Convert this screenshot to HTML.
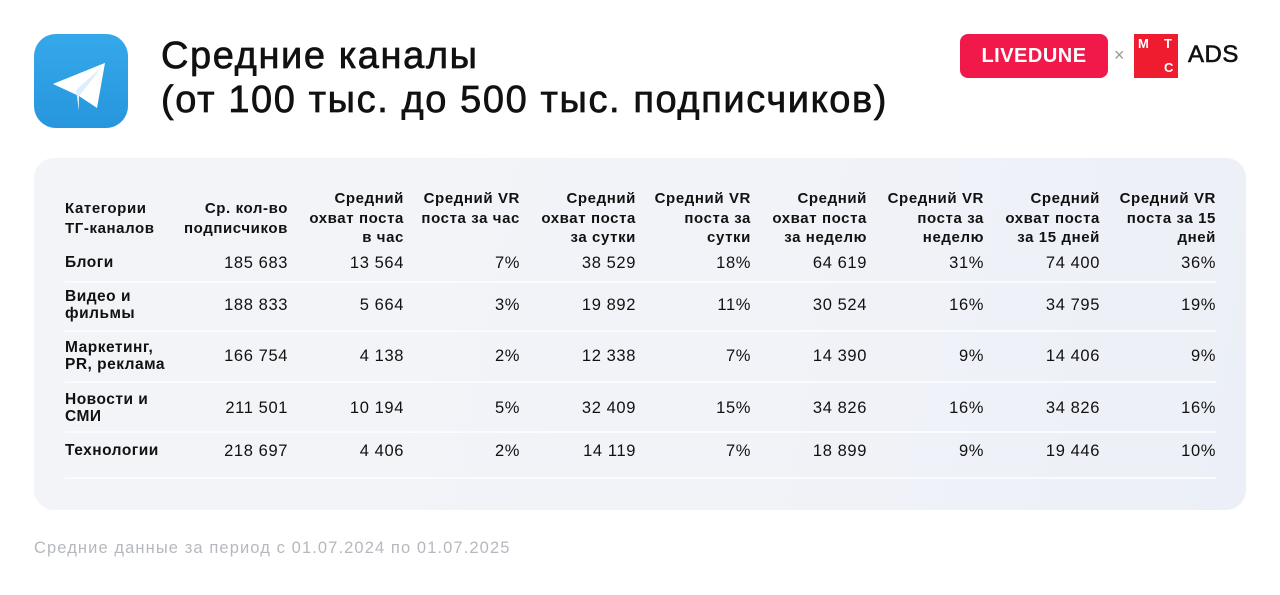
<!DOCTYPE html>
<html><head><meta charset="utf-8"><style>
body{margin:0;width:1280px;height:595px;background:#fff;font-family:"Liberation Sans",sans-serif;position:relative;overflow:hidden;color:#111}
.a{position:absolute}
.title{left:161px;top:34px;font-size:38px;line-height:44px;color:#111;letter-spacing:1.6px;-webkit-text-stroke:0.7px #111}
.card{left:34px;top:158px;width:1212px;height:352px;border-radius:20px;background:linear-gradient(100deg,#f3f4f8 0%,#f1f3f8 60%,#eceff7 100%)}
.h{font-size:15px;font-weight:bold;line-height:19.5px;text-align:right;letter-spacing:0.6px}
.c{font-size:16.5px;text-align:right;line-height:17px;letter-spacing:0.6px}
.n{font-size:15.5px;font-weight:bold;line-height:16.5px;letter-spacing:0.5px}
.sep{left:65px;width:1151px;height:2px;background:#fafbfd}
</style></head><body>
<div class="a" style="left:34px;top:34px;width:94px;height:94px;border-radius:22px;background:linear-gradient(180deg,#35a8ea,#2796dd)">
<svg width="94" height="94" viewBox="0 0 94 94"><path d="M19 50 L71 29 L63 74 L45 62 Z" fill="#fff"/><path d="M45 62 L68 33 L42 56 L45 77 Z" fill="#dbeefa"/><path d="M19 50 L71 29 L42 56 Z" fill="#fff"/></svg>
</div>
<div class="a title">Средние каналы<br>(от 100 тыс. до 500 тыс. подписчиков)</div>
<div class="a" style="left:960px;top:34px;width:148px;height:44px;border-radius:8px;background:#f0194a;color:#fff;font-weight:bold;font-size:20px;line-height:44px;text-align:center;letter-spacing:0.5px">LIVEDUNE</div>
<div class="a" style="left:1114px;top:45px;color:#999;font-size:18px">×</div>
<div class="a" style="left:1134px;top:34px;width:44px;height:44px;background:#ee1c2e;color:#fff;font-weight:bold;font-size:13px">
<span class="a" style="left:4px;top:2px">М</span><span class="a" style="left:30px;top:2px">Т</span><span class="a" style="left:30px;top:26px">С</span></div>
<div class="a" style="left:1188px;top:41px;font-size:24px;color:#111;letter-spacing:0.5px;-webkit-text-stroke:0.6px #111">ADS</div>
<div class="a card"></div>
<div class="a sep" style="top:281px"></div>
<div class="a sep" style="top:330px"></div>
<div class="a sep" style="top:381px"></div>
<div class="a sep" style="top:431px"></div>
<div class="a sep" style="top:477px"></div>
<div class="a h" style="left:65px;top:199px;text-align:left">Категории<br>ТГ-каналов</div>
<div class="a h" style="right:992px;top:199px">Ср. кол-во<br>подписчиков</div>
<div class="a h" style="right:876px;top:189px">Средний<br>охват поста<br>в час</div>
<div class="a h" style="right:760px;top:189px">Средний VR<br>поста за час</div>
<div class="a h" style="right:644px;top:189px">Средний<br>охват поста<br>за сутки</div>
<div class="a h" style="right:529px;top:189px">Средний VR<br>поста за<br>сутки</div>
<div class="a h" style="right:413px;top:189px">Средний<br>охват поста<br>за неделю</div>
<div class="a h" style="right:296px;top:189px">Средний VR<br>поста за<br>неделю</div>
<div class="a h" style="right:180px;top:189px">Средний<br>охват поста<br>за 15 дней</div>
<div class="a h" style="right:64px;top:189px">Средний VR<br>поста за 15<br>дней</div>
<div class="a n" style="left:65px;top:255px">Блоги</div>
<div class="a n" style="left:65px;top:289px">Видео и<br>фильмы</div>
<div class="a n" style="left:65px;top:340px">Маркетинг,<br>PR, реклама</div>
<div class="a n" style="left:65px;top:392px">Новости и<br>СМИ</div>
<div class="a n" style="left:65px;top:443px">Технологии</div>

<div class="a c" style="right:992px;top:255px">185 683</div><div class="a c" style="right:876px;top:255px">13 564</div><div class="a c" style="right:760px;top:255px">7%</div><div class="a c" style="right:644px;top:255px">38 529</div><div class="a c" style="right:529px;top:255px">18%</div><div class="a c" style="right:413px;top:255px">64 619</div><div class="a c" style="right:296px;top:255px">31%</div><div class="a c" style="right:180px;top:255px">74 400</div><div class="a c" style="right:64px;top:255px">36%</div>

<div class="a c" style="right:992px;top:297px">188 833</div><div class="a c" style="right:876px;top:297px">5 664</div><div class="a c" style="right:760px;top:297px">3%</div><div class="a c" style="right:644px;top:297px">19 892</div><div class="a c" style="right:529px;top:297px">11%</div><div class="a c" style="right:413px;top:297px">30 524</div><div class="a c" style="right:296px;top:297px">16%</div><div class="a c" style="right:180px;top:297px">34 795</div><div class="a c" style="right:64px;top:297px">19%</div>

<div class="a c" style="right:992px;top:348px">166 754</div><div class="a c" style="right:876px;top:348px">4 138</div><div class="a c" style="right:760px;top:348px">2%</div><div class="a c" style="right:644px;top:348px">12 338</div><div class="a c" style="right:529px;top:348px">7%</div><div class="a c" style="right:413px;top:348px">14 390</div><div class="a c" style="right:296px;top:348px">9%</div><div class="a c" style="right:180px;top:348px">14 406</div><div class="a c" style="right:64px;top:348px">9%</div>

<div class="a c" style="right:992px;top:400px">211 501</div><div class="a c" style="right:876px;top:400px">10 194</div><div class="a c" style="right:760px;top:400px">5%</div><div class="a c" style="right:644px;top:400px">32 409</div><div class="a c" style="right:529px;top:400px">15%</div><div class="a c" style="right:413px;top:400px">34 826</div><div class="a c" style="right:296px;top:400px">16%</div><div class="a c" style="right:180px;top:400px">34 826</div><div class="a c" style="right:64px;top:400px">16%</div>

<div class="a c" style="right:992px;top:443px">218 697</div><div class="a c" style="right:876px;top:443px">4 406</div><div class="a c" style="right:760px;top:443px">2%</div><div class="a c" style="right:644px;top:443px">14 119</div><div class="a c" style="right:529px;top:443px">7%</div><div class="a c" style="right:413px;top:443px">18 899</div><div class="a c" style="right:296px;top:443px">9%</div><div class="a c" style="right:180px;top:443px">19 446</div><div class="a c" style="right:64px;top:443px">10%</div>

<div class="a" style="left:34px;top:539px;font-size:16.5px;color:#b5b8be;letter-spacing:1.1px">Средние данные за период с 01.07.2024 по 01.07.2025</div>
</body></html>
